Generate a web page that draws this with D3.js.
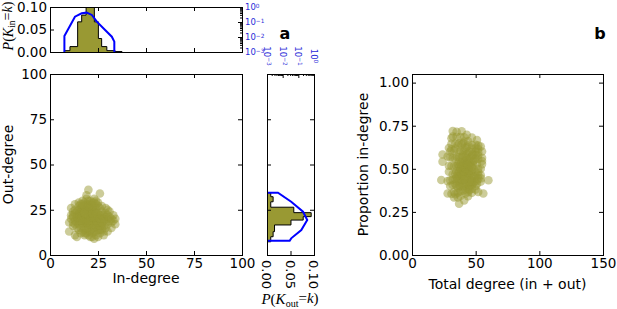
<!DOCTYPE html>
<html><head><meta charset="utf-8">
<script src="https://cdn.jsdelivr.net/npm/d3@7"></script>
<style>body{margin:0;background:#fff}</style>
</head><body><svg id="c" width="617" height="309" xmlns="http://www.w3.org/2000/svg"></svg>
<script>
// ---- data ----
const nodeDegrees = [ // [in-degree, out-degree]
[10,13],[11,26],[10,18],[12,22],[11,20],[12,16],[13,11],[14,10],[15,25],[13,28],[15,29],[17,30],[19,33],[20,36],[23,31],[26,34],[24,30],[27,27],[29,26],[31,24],[33,22],[34,20],[34,17],[32,15],[30,13],[28,11],[25,10],[23,9],[21,10],[18,11],[16,12],[15,14],
[14,18],[15,20],[16,22],[17,24],[18,26],[19,28],[20,30],[21,28],[22,26],[23,24],[24,22],[25,20],[26,18],[27,16],[26,14],[24,13],[22,12],[20,13],[18,14],[17,16],[16,18],[17,20],[18,22],[19,24],[20,26],[21,24],[22,22],[23,20],[24,18],[25,16],[23,15],[21,16],[19,17],[18,19],[19,21],[20,22],[21,20],[22,18],[20,18],[20,20],[19,19],[21,22],[18,17],[22,21],[17,19],[23,19],[16,21],[24,21],[15,17],[25,23],[14,22],[26,22],[13,19],[27,20],[12,18],[28,19],[14,24],[28,22],[15,23],[29,21],[16,26],[27,24],[17,27],[26,26],[18,29],[25,27],[20,28],[24,26],[22,29],[23,27],[21,26],[19,26],[17,25],[16,24],[15,22],[14,20],[13,17],[14,15],[16,15],[17,13],[19,12],[21,13],[23,13],[25,14],[27,14],[28,16],[29,18],[30,20],[31,19],[30,17],[29,15],[28,13],[26,12],[24,11],[22,10],[20,11],[18,12],[20,15],[22,15],[24,16],[26,16],[19,15],[21,18],[23,17],[25,18],[27,18],[17,22],[19,23],[21,23],[23,22],[25,21],[18,24],[20,24],[22,24],[24,24],[16,20],[18,20],[20,21],[22,20],[24,19],[19,20],[21,19],[18,21],[22,17],[20,17],[20,19],[21,21],[19,18],[23,21],[17,18],[22,23],[18,23],[24,23],[16,19],[26,20],[15,19],[27,22],[14,21],[28,20],[13,23],[29,23],[12,21],[30,22],[15,27],[25,29],[16,28],[24,28],[18,27],[22,27],[20,27],[21,30],[19,31],[17,28],[23,29],[12,24],[11,22],[13,25],[31,21],[32,18],[33,19],[30,25],[32,20]
];
const inBinEdges  = [7.5, 10.4, 14.4, 16.5, 18.8, 20.9, 23.1, 25.2, 26.9, 29.6, 33.9, 37.5];
const inBinProb   = [0.003, 0.012, 0.067, 0.082, 0.115, 0.105, 0.067, 0.03, 0.012, 0.003, 0.001];
const outBinEdges = [7.3, 10.1, 12.9, 16.6, 19.3, 21.2, 23.4, 26.4, 29.4, 32.2, 34.4];
const outBinProb  = [0.008, 0.013, 0.016, 0.051, 0.077, 0.094, 0.057, 0.008, 0.013, 0.008];
const inLogK  = [7.5, 7.5, 13.0, 16.5, 19.1, 21.8, 24.4, 28.7, 32.2, 33.5, 33.5];
const inLogP  = [0.001, 0.0117, 0.225, 0.38, 0.42, 0.295, 0.105, 0.029, 0.0105, 0.0049, 0.001];
const outLogK = [34.4, 34.4, 29.4, 23.9, 19.3, 13.8, 9.2, 7.9, 7.9];
const outLogP = [0.001, 0.005, 0.035, 0.2, 0.37, 0.155, 0.035, 0.028, 0.001];
const degTicks   = [0, 25, 50, 75, 100];
const totalTicks = [0, 50, 100, 150];
const propTicks  = [0, 0.25, 0.5, 0.75, 1.0];
const probTicks  = [0, 0.05, 0.1];
const logTicks   = [1e-3, 1e-2, 1e-1, 1];

// ---- style ----
const olive = "#999933", blue = "#0000ff", blueText = "#2a2ad8";
const SANS = "DejaVu Sans", SERIF = "Liberation Serif";
const svg = d3.select("#c");

// ---- scales ----
const xA = d3.scaleLinear([0,100],[50,242]);
const yA = d3.scaleLinear([0,100],[255,74]);
const yTop = d3.scaleLinear([0,0.1],[52,7]);
const yTopLog = d3.scaleLog([1e-3,1],[52,7]);
const xRight = d3.scaleLinear([0,0.1],[267,314]);
const xRightLog = d3.scaleLog([1e-3,1],[267,314]);
const xB = d3.scaleLinear([0,150],[412,603]);
const yB = d3.scaleLinear([0,1.05],[255,74]);

const defs = svg.append("defs");
function clip(id, xs, ys){
  defs.append("clipPath").attr("id",id).append("rect")
    .attr("x",xs.range()[0]).attr("y",Math.min(...ys.range()))
    .attr("width",xs.range()[1]-xs.range()[0]).attr("height",Math.abs(ys.range()[1]-ys.range()[0]));
}
function frame(xs, ys){
  const x0=xs.range()[0], x1=xs.range()[1], y0=Math.min(...ys.range()), y1=Math.max(...ys.range());
  svg.append("rect").attr("x",x0+0.5).attr("y",y0+0.5).attr("width",x1-x0).attr("height",y1-y0)
    .attr("fill","none").attr("stroke","#000").attr("stroke-width",1);
}
function axisG(axis, tx, ty, fs){
  const g = svg.append("g").attr("transform",`translate(${tx},${ty})`).call(axis);
  g.select(".domain").remove();
  g.attr("font-family",SANS).attr("font-size",fs||13.5);
  g.selectAll("line").attr("stroke","#000");
  g.selectAll("text").attr("fill","#000");
  return g;
}
function label(txt,x,y,rot){
  const t = svg.append("text").attr("x",x).attr("y",y).attr("text-anchor","middle")
    .attr("font-family",SANS).attr("font-size",14).text(txt);
  if(rot) t.attr("transform",`rotate(${rot},${x},${y})`);
  return t;
}

// ===== panel a: main scatter =====
clip("clipA", xA, yA);
svg.append("g").attr("clip-path","url(#clipA)").selectAll("circle").data(nodeDegrees).join("circle")
  .attr("cx",d=>xA(d[0])).attr("cy",d=>yA(d[1])).attr("r",4.3)
  .attr("fill",olive).attr("fill-opacity",0.5);
frame(xA,yA);
axisG(d3.axisBottom(xA).tickValues(degTicks).tickSize(-4).tickPadding(3).tickFormat(d3.format("d")),0,255);
axisG(d3.axisTop(xA).tickValues(degTicks).tickSize(-4).tickFormat(""),0,74);
axisG(d3.axisLeft(yA).tickValues(degTicks).tickSize(-4).tickPadding(3).tickFormat(d3.format("d")),50,0);
axisG(d3.axisRight(yA).tickValues(degTicks).tickSize(-4).tickFormat(""),242,0);
label("In-degree",146,283);
label("Out-degree",13,164.5,-90);

// ===== top histogram (in-degree) =====
clip("clipTop", xA, yTop);
function stepPts(edges, probs){
  const pts=[[edges[0],0]];
  probs.forEach((p,i)=>{pts.push([edges[i],p]); pts.push([edges[i+1],p]);});
  pts.push([edges[edges.length-1],0]);
  return pts;
}
const gTop = svg.append("g").attr("clip-path","url(#clipTop)");
gTop.append("path").datum(stepPts(inBinEdges,inBinProb))
  .attr("d",d3.line().x(d=>xA(d[0])).y(d=>yTop(d[1])))
  .attr("fill",olive).attr("stroke","#000").attr("stroke-width",1);
gTop.append("path").datum(inLogK.map((k,i)=>[k,inLogP[i]]))
  .attr("d",d3.line().x(d=>xA(d[0])).y(d=>yTopLog(d[1])))
  .attr("fill","none").attr("stroke",blue).attr("stroke-width",2);
frame(xA,yTop);
axisG(d3.axisBottom(xA).tickValues(degTicks).tickSize(-4).tickFormat(""),0,52);
axisG(d3.axisTop(xA).tickValues(degTicks).tickSize(-4).tickFormat(""),0,7);
axisG(d3.axisLeft(yTop).tickValues(probTicks).tickSize(-4).tickPadding(3).tickFormat(d3.format(".2f")),50,0);
// log axis (right)
const minorLog = [];
[-3,-2,-1].forEach(e=>{for(let m=2;m<=9;m++) minorLog.push(m*Math.pow(10,e));});
axisG(d3.axisRight(yTopLog).tickValues(logTicks).tickSize(-4).tickFormat(""),242,0);
axisG(d3.axisRight(yTopLog).tickValues(minorLog).tickSize(-2).tickFormat(""),242,0);
function logLabel(sel, v){
  const e = Math.round(Math.log10(v));
  sel.append("tspan").text("10");
  sel.append("tspan").attr("dy","-0.5em").attr("font-size",5.8).text(e===0?"0":"\u2212"+Math.abs(e));
}
logTicks.forEach(v=>{
  const t = svg.append("text").attr("x",245).attr("y",yTopLog(v)).attr("dy","0.4em")
    .attr("font-family",SANS).attr("font-size",8.5).attr("fill",blueText);
  logLabel(t,v);
});
// y label P(K_in = k)
{
  const x=12.5, y=26;
  const t = svg.append("text").attr("x",x).attr("y",y).attr("text-anchor","middle")
    .attr("font-family",SERIF).attr("font-size",14).attr("transform",`rotate(-90,${x},${y})`);
  t.append("tspan").attr("font-style","italic").text("P");
  t.append("tspan").text("(");
  t.append("tspan").attr("font-style","italic").text("K");
  t.append("tspan").attr("dy","0.25em").attr("font-size",9.5).text("in");
  t.append("tspan").attr("dy","-0.17em").text("=");
  t.append("tspan").attr("font-style","italic").text("k");
  t.append("tspan").text(")");
}

// ===== right histogram (out-degree) =====
clip("clipRight", xRight, yA);
const gR = svg.append("g").attr("clip-path","url(#clipRight)");
gR.append("path").datum(stepPts(outBinEdges,outBinProb))
  .attr("d",d3.line().x(d=>xRight(d[1])).y(d=>yA(d[0])))
  .attr("fill",olive).attr("stroke","#000").attr("stroke-width",1);
gR.append("path").datum(outLogK.map((k,i)=>[k,outLogP[i]]))
  .attr("d",d3.line().x(d=>xRightLog(d[1])).y(d=>yA(d[0])))
  .attr("fill","none").attr("stroke",blue).attr("stroke-width",2);
frame(xRight,yA);
axisG(d3.axisLeft(yA).tickValues(degTicks).tickSize(-4).tickFormat(""),267,0);
axisG(d3.axisRight(yA).tickValues(degTicks).tickSize(-4).tickFormat(""),314,0);
axisG(d3.axisBottom(xRight).tickValues(probTicks).tickSize(-4).tickFormat(""),0,255);
axisG(d3.axisTop(xRightLog).tickValues(logTicks).tickSize(-4).tickFormat(""),0,74);
axisG(d3.axisTop(xRightLog).tickValues(minorLog).tickSize(-2).tickFormat(""),0,74);
probTicks.forEach(v=>{
  const x=xRight(v), y=260;
  svg.append("text").attr("x",x).attr("y",y).attr("dy","0.36em").attr("text-anchor","start")
    .attr("font-family",SANS).attr("font-size",13).attr("transform",`rotate(90,${x},${y})`)
    .text(d3.format(".2f")(v));
});
logTicks.forEach(v=>{
  const x=xRightLog(v), y=56;
  const t = svg.append("text").attr("x",x).attr("y",y).attr("dy","0.36em").attr("text-anchor","middle")
    .attr("font-family",SANS).attr("font-size",8.5).attr("fill",blueText)
    .attr("transform",`rotate(90,${x},${y})`);
  logLabel(t,v);
});
{
  const x=290, y=304;
  const t = svg.append("text").attr("x",x).attr("y",y).attr("text-anchor","middle")
    .attr("font-family",SERIF).attr("font-size",15);
  t.append("tspan").attr("font-style","italic").text("P");
  t.append("tspan").text("(");
  t.append("tspan").attr("font-style","italic").text("K");
  t.append("tspan").attr("dy","0.25em").attr("font-size",10).text("out");
  t.append("tspan").attr("dy","-0.25em").text("=");
  t.append("tspan").attr("font-style","italic").text("k");
  t.append("tspan").text(")");
}
svg.append("text").attr("x",285).attr("y",39).attr("text-anchor","middle")
  .attr("font-family",SANS).attr("font-weight","bold").attr("font-size",16).text("a");

// ===== panel b =====
clip("clipB", xB, yB);
svg.append("g").attr("clip-path","url(#clipB)").selectAll("circle").data(nodeDegrees).join("circle")
  .attr("cx",d=>xB(d[0]+d[1])).attr("cy",d=>yB(d[0]/(d[0]+d[1]))).attr("r",4.3)
  .attr("fill",olive).attr("fill-opacity",0.5);
frame(xB,yB);
axisG(d3.axisBottom(xB).tickValues(totalTicks).tickSize(-4).tickPadding(3).tickFormat(d3.format("d")),0,255);
axisG(d3.axisTop(xB).tickValues(totalTicks).tickSize(-4).tickFormat(""),0,74);
axisG(d3.axisLeft(yB).tickValues(propTicks).tickSize(-4).tickPadding(3).tickFormat(d3.format(".2f")),412,0);
axisG(d3.axisRight(yB).tickValues(propTicks).tickSize(-4).tickFormat(""),603,0);
label("Total degree (in + out)",507.5,288.5);
label("Proportion in-degree",368,164.5,-90);
svg.append("text").attr("x",600).attr("y",39).attr("text-anchor","middle")
  .attr("font-family",SANS).attr("font-weight","bold").attr("font-size",16).text("b");
</script></body></html>
